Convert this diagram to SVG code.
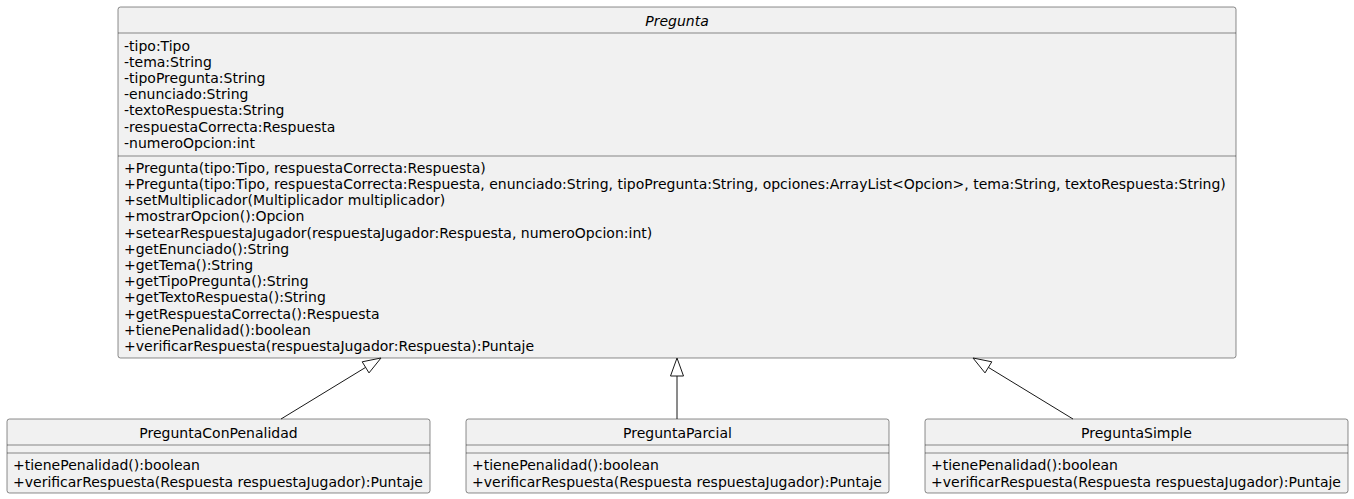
<svg xmlns="http://www.w3.org/2000/svg" width="1354" height="499" viewBox="0 0 1354 499">
<style>
.box{fill:#F1F1F1;stroke:#181818;stroke-width:0.5}
.sep{stroke:#181818;stroke-width:0.5}
text{font-family:"DejaVu Sans",sans-serif;font-size:14px;fill:#000000}
.title{text-anchor:middle}
.it{font-style:italic}
.edge{stroke:#181818;stroke-width:1;fill:none}
.head{stroke:#181818;stroke-width:1;fill:none}
</style>
<rect width="1354" height="499" fill="#FFFFFF"/>
<g id="Pregunta">
<rect class="box" x="118" y="7" width="1118" height="351" rx="2.5" ry="2.5"/>
<line class="sep" x1="118" y1="33" x2="1236" y2="33"/>
<line class="sep" x1="118" y1="156" x2="1236" y2="156"/>
<text class="title it" x="677" y="26">Pregunta</text>
<text x="124" y="50.5">-tipo:Tipo</text>
<text x="124" y="66.7">-tema:String</text>
<text x="124" y="82.9">-tipoPregunta:String</text>
<text x="124" y="99.1">-enunciado:String</text>
<text x="124" y="115.3">-textoRespuesta:String</text>
<text x="124" y="131.5">-respuestaCorrecta:Respuesta</text>
<text x="124" y="147.7">-numeroOpcion:int</text>
<text x="124" y="172.8">+Pregunta(tipo:Tipo, respuestaCorrecta:Respuesta)</text>
<text x="124" y="189">+Pregunta(tipo:Tipo, respuestaCorrecta:Respuesta, enunciado:String, tipoPregunta:String, opciones:ArrayList&lt;Opcion&gt;, tema:String, textoRespuesta:String)</text>
<text x="124" y="205.2">+setMultiplicador(Multiplicador multiplicador)</text>
<text x="124" y="221.4">+mostrarOpcion():Opcion</text>
<text x="124" y="237.6">+setearRespuestaJugador(respuestaJugador:Respuesta, numeroOpcion:int)</text>
<text x="124" y="253.8">+getEnunciado():String</text>
<text x="124" y="270">+getTema():String</text>
<text x="124" y="286.2">+getTipoPregunta():String</text>
<text x="124" y="302.4">+getTextoRespuesta():String</text>
<text x="124" y="318.6">+getRespuestaCorrecta():Respuesta</text>
<text x="124" y="334.8">+tienePenalidad():boolean</text>
<text x="124" y="351">+verificarRespuesta(respuestaJugador:Respuesta):Puntaje</text>
</g>
<g id="PreguntaConPenalidad">
<rect class="box" x="7" y="419" width="423" height="74" rx="2.5" ry="2.5"/>
<line class="sep" x1="7" y1="445" x2="430" y2="445"/>
<line class="sep" x1="7" y1="453" x2="430" y2="453"/>
<text class="title" x="218.5" y="437.5">PreguntaConPenalidad</text>
<text x="13" y="470.3">+tienePenalidad():boolean</text>
<text x="13" y="486.6">+verificarRespuesta(Respuesta respuestaJugador):Puntaje</text>
</g>
<g id="PreguntaParcial">
<rect class="box" x="466" y="419" width="423" height="74" rx="2.5" ry="2.5"/>
<line class="sep" x1="466" y1="445" x2="889" y2="445"/>
<line class="sep" x1="466" y1="453" x2="889" y2="453"/>
<text class="title" x="677.5" y="437.5">PreguntaParcial</text>
<text x="472" y="470.3">+tienePenalidad():boolean</text>
<text x="472" y="486.6">+verificarRespuesta(Respuesta respuestaJugador):Puntaje</text>
</g>
<g id="PreguntaSimple">
<rect class="box" x="925" y="419" width="423" height="74" rx="2.5" ry="2.5"/>
<line class="sep" x1="925" y1="445" x2="1348" y2="445"/>
<line class="sep" x1="925" y1="453" x2="1348" y2="453"/>
<text class="title" x="1136.5" y="437.5">PreguntaSimple</text>
<text x="931" y="470.3">+tienePenalidad():boolean</text>
<text x="931" y="486.6">+verificarRespuesta(Respuesta respuestaJugador):Puntaje</text>
</g>
<g id="connectors">
<line class="edge" x1="281" y1="419" x2="365.6" y2="367.4"/>
<polygon class="head" points="381,358 369,372.9 362.2,361.8"/>
<line class="edge" x1="677" y1="419" x2="677" y2="376"/>
<polygon class="head" points="677,358 683.5,376 670.5,376"/>
<line class="edge" x1="1073" y1="419" x2="988.4" y2="367.4"/>
<polygon class="head" points="973,358 985,372.9 991.8,361.8"/>
</g>
</svg>
